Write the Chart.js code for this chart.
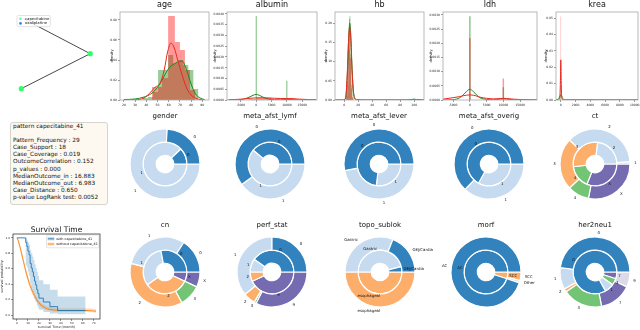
<!DOCTYPE html>
<html>
<head>
<meta charset="utf-8">
<script src="https://cdn.jsdelivr.net/npm/chart.js@4.4.1/dist/chart.umd.min.js"></script>
<style>
  body { margin: 0; width: 640px; height: 330px; background: #fff; position: relative; overflow: hidden; font-family: "DejaVu Sans", sans-serif; }
  canvas { position: absolute; }
  #stats { position: absolute; left: 10px; top: 122px; width: 98px; height: 83px; box-sizing: border-box;
           background: #fdf9f1; border: 0.8px solid #d8d4cc; border-radius: 3px; padding: 0 2px;
           font-size: 5.8px; line-height: 7.1px; color: #111; white-space: pre; }
</style>
</head>
<body>
<div id="stats"></div>
<script>
// ---------- tree (top left) ----------
const treeNodeX = [0.19, 0.845, 0.17];
const treeNodeY = [0.84, 0.46, 0.08];
const treeEdges = [[0, 1], [1, 2]];
const treeShown = [1, 2];
const treeLegend = ['capecitabine', 'oxaliplatine'];

// ---------- stats text ----------
const statsTitle = 'pattern capecitabine_41';
const statsLines = ['Pattern_Frequency : 29', 'Case_Support : 18', 'Case_Coverage : 0.019',
  'OutcomeCorrelation : 0.152', 'p_values : 0.000', 'MedianOutcome_in : 16.883',
  'MedianOutcome_out : 6.983', 'Case_Distance : 0.650', 'p-value LogRank test: 0.0052'];

// ---------- histograms ----------
const ageRedEdges = [45, 49.5, 54, 59.5, 65.5, 70, 74.5, 79, 83.5];
const ageRedDens = [0.013, 0.013, 0.022, 0.084, 0.058, 0.05, 0.03, 0.01];
const ageGreenEdges = [37, 41.5, 46, 50.5, 55, 59.5, 64, 68.5, 73, 77.5, 82, 86.5];
const ageGreenDens = [0.002, 0.003, 0.008, 0.03, 0.03, 0.045, 0.037, 0.04, 0.035, 0.03, 0.011];
const ageKdeX = [20, 30, 38, 44, 48, 52, 56, 59, 62, 65, 68, 72, 76, 80, 84, 88, 92];
const ageKdeRed = [0, 0.0003, 0.002, 0.008, 0.013, 0.016, 0.03, 0.048, 0.057, 0.052, 0.04, 0.025, 0.012, 0.005, 0.002, 0.0005, 0];
const ageKdeGreen = [0.0005, 0.001, 0.003, 0.006, 0.01, 0.016, 0.024, 0.03, 0.034, 0.036, 0.038, 0.039, 0.03, 0.016, 0.006, 0.002, 0.0005];
const ageXTicks = [20, 30, 40, 50, 60, 70, 80, 90];
const ageYTicks = [0, 0.02, 0.04, 0.06, 0.08];

const albRedEdges = [-2500, 0, 2500, 5000, 7500, 10000, 12500, 15000];
const albRedDens = [0.00005, 0.00012, 0.00012, 0.00004, 0.00004, 0.00008, 0.00003];
const albGreenEdges = [-250, 250, 9750, 10250];
const albGreenDens = [0.0039, 0, 0.0009];
const albKdeX = [-9000, -6000, -4000, -2000, -1000, 0, 1000, 2000, 4000, 6000, 8000, 10000, 12000, 14000, 17000, 19500];
const albKdeRed = [0.00001, 0.00003, 0.00005, 0.00008, 0.00009, 0.0001, 0.0001, 0.0001, 0.00009, 0.00008, 0.00007, 0.00007, 0.00006, 0.00004, 0.00002, 0.00001];
const albKdeGreen = [0, 0.00001, 0.00004, 0.00015, 0.00022, 0.00026, 0.00022, 0.00015, 0.00004, 0.00001, 0.00001, 0.00003, 0.00001, 0, 0, 0];
const albXTicks = [-5000, 0, 5000, 10000, 15000];
const albYTicks = [0, 0.0005, 0.001, 0.0015, 0.002, 0.0025, 0.003, 0.0035, 0.004];

const hbRedEdges = [2.5, 4, 5.5, 7, 8.5, 10, 11.5, 13];
const hbRedDens = [0.015, 0.05, 0.16, 0.21, 0.11, 0.03, 0.006];
const hbGreenEdges = [3, 4.5, 6, 7.5, 9, 10.5, 12, 13.5, 98, 101];
const hbGreenDens = [0.01, 0.04, 0.13, 0.218, 0.12, 0.04, 0.008, 0, 0.003];
const hbKdeX = [-13, -2, 1, 3, 5, 6.5, 8, 9.5, 11, 13, 15, 18, 30, 60, 90, 97, 100, 103, 114];
const hbKdeRed = [0, 0, 0.002, 0.02, 0.09, 0.16, 0.19, 0.16, 0.09, 0.025, 0.005, 0.001, 0, 0, 0, 0, 0, 0, 0];
const hbKdeGreen = [0, 0, 0.001, 0.015, 0.08, 0.16, 0.2, 0.17, 0.1, 0.03, 0.006, 0.001, 0, 0, 0, 0.0015, 0.002, 0.0015, 0];
const hbXTicks = [0, 20, 40, 60, 80, 100];
const hbYTicks = [0, 0.05, 0.1, 0.15, 0.2];

const ldhRedEdges = [-250, 250, 9750, 10250];
const ldhRedDens = [0.00218, 0, 0.00076];
const ldhGreenEdges = [-250, 250, 9750, 10250];
const ldhGreenDens = [0.00295, 0, 0.00045];
const ldhKdeX = [-8000, -5000, -3000, -2000, -1000, 0, 1000, 2000, 3000, 5000, 7000, 9000, 10000, 11000, 13000, 16000, 20000];
const ldhKdeRed = [0.00003, 0.00008, 0.00012, 0.00015, 0.00017, 0.00018, 0.00017, 0.00014, 0.0001, 0.00006, 0.00004, 0.00005, 0.00006, 0.00005, 0.00003, 0.00001, 0];
const ldhKdeGreen = [0, 0.00001, 0.00008, 0.00018, 0.0003, 0.00038, 0.0003, 0.00018, 0.00008, 0.00002, 0.00001, 0.00003, 0.00004, 0.00003, 0.00001, 0, 0];
const ldhXTicks = [-5000, 0, 5000, 10000, 15000];
const ldhYTicks = [0, 0.0005, 0.001, 0.0015, 0.002, 0.0025, 0.003];

const kreaRedEdges = [-60, 60];
const kreaRedDens = [0.051];
const kreaGreenEdges = [-60, 60];
const kreaGreenDens = [0.0045];
const kreaKdeX = [-650, -400, -200, -100, -50, 0, 50, 100, 200, 400, 650, 1000, 2000, 5000, 10450];
const kreaKdeRed = [0, 0, 0.0005, 0.004, 0.012, 0.0245, 0.012, 0.004, 0.0005, 0, 0, 0, 0, 0, 0];
const kreaKdeGreen = [0, 0.0003, 0.0015, 0.0025, 0.0029, 0.003, 0.0029, 0.0025, 0.0015, 0.0003, 0.0001, 0.0001, 0.0001, 0, 0];
const kreaXTicks = [0, 2000, 4000, 6000, 8000, 10000];
const kreaYTicks = [0, 0.01, 0.02, 0.03, 0.04, 0.05];

// ---------- survival ----------
const withT = [0, 8, 9, 10, 11, 12, 13, 14, 15, 16, 17, 18, 19, 20, 24, 30, 37, 62.5];
const withS = [1.0, 0.94, 0.89, 0.83, 0.78, 0.67, 0.61, 0.56, 0.5, 0.44, 0.39, 0.33, 0.28, 0.22, 0.17, 0.11, 0.06, 0.06];
const withHi = [1.0, 0.99, 0.97, 0.94, 0.91, 0.84, 0.8, 0.76, 0.71, 0.66, 0.61, 0.56, 0.51, 0.45, 0.4, 0.33, 0.24, 0.24];
const withLo = [1.0, 0.65, 0.62, 0.56, 0.51, 0.41, 0.35, 0.3, 0.26, 0.21, 0.17, 0.13, 0.1, 0.07, 0.04, 0.02, 0.01, 0.01];
const woT = [0, 1, 2, 3, 4, 5, 6, 7, 8, 9, 10, 12, 14, 16, 18, 20, 22, 25, 28, 32, 38, 45, 55, 65, 72];
const woS = [1.0, 0.97, 0.92, 0.87, 0.81, 0.75, 0.69, 0.63, 0.57, 0.52, 0.47, 0.38, 0.31, 0.25, 0.2, 0.16, 0.13, 0.1, 0.08, 0.07, 0.06, 0.06, 0.06, 0.06, 0.05];
const woHi = [1.0, 0.99, 0.95, 0.9, 0.85, 0.79, 0.73, 0.67, 0.61, 0.56, 0.51, 0.42, 0.35, 0.29, 0.23, 0.19, 0.16, 0.13, 0.11, 0.1, 0.09, 0.09, 0.09, 0.09, 0.08];
const woLo = [1.0, 0.95, 0.89, 0.84, 0.77, 0.71, 0.65, 0.59, 0.53, 0.48, 0.43, 0.34, 0.27, 0.21, 0.17, 0.13, 0.1, 0.08, 0.06, 0.05, 0.04, 0.04, 0.04, 0.04, 0.03];
const survXTicks = [0, 10, 20, 30, 40, 50, 60, 70];
const survYTicks = [0, 0.2, 0.4, 0.6, 0.8, 1.0];
const survLegend = ['with capecitabine_41', 'without capecitabine_41'];

// ---------- nested pies (matplotlib order, counter-clockwise from 3 o'clock) ----------
const binCats = ['0', '1'];
const genderOuter = [24, 76], genderInner = [12, 88];
const lymfOuter = [60, 40], lymfInner = [39, 61];
const leverOuter = [53, 47], leverInner = [73, 27];
const overigOuter = [63, 37], overigInner = [67, 33];
const ctCats = ['1', '2', '3', '4', 'X'];
const ctOuter = [1, 37, 24, 10, 28], ctInner = [0, 23, 29, 17, 31];
const cnCats = ['0', '1', '2', '3', 'X'];
const cnOuter = [16, 30, 37, 10, 7], cnInner = [28, 32, 33, 0, 7];
const perfCats = ['0', '1', '2', '3', '9'];
const perfOuter = [25, 36, 5.5, 1, 32.5], perfInner = [40, 10, 7, 0, 43];
const topoCats = ['GEJ/Cardia', 'Gastric', 'esophageal'];
const topoOuter = [19, 31, 50], topoInner = [4, 46, 50];
const morfCats = ['AC', 'Other', 'SCC'];
const morfOuter = [95, 1, 4], morfInner = [95, 0, 5];
const herCats = ['0', '1', '2', '3', '7', '9'];
const herOuter = [48, 10, 1.5, 18.5, 15, 7], herInner = [83, 7, 0, 5, 5, 0];

const C = { dblue: '#3182bd', lblue: '#c6dbef', orange: '#fdae6b', green: '#74c476', purple: '#756bb1', lpurple: '#dadaeb' };

// ---------------------------------------------------------------
Chart.defaults.font.family = "'DejaVu Sans', sans-serif";
Chart.defaults.color = '#222';
Chart.defaults.animation = false;
Chart.defaults.plugins.legend.display = false;
Chart.defaults.plugins.tooltip.enabled = false;

const panelTitle = {
  id: 'panelTitle',
  afterDraw(chart, args, o) {
    if (!o.text) return;
    const ctx = chart.ctx, a = chart.chartArea;
    ctx.save();
    ctx.font = o.size + "px 'DejaVu Sans'";
    ctx.fillStyle = '#111';
    ctx.textAlign = 'center';
    ctx.textBaseline = 'alphabetic';
    ctx.fillText(o.text, (a.left + a.right) / 2, o.y);
    ctx.restore();
  }
};

const frameBox = {
  id: 'frameBox',
  afterDraw(chart, args, o) {
    if (!o.color) return;
    const ctx = chart.ctx, a = chart.chartArea;
    ctx.save();
    ctx.strokeStyle = o.color;
    ctx.lineWidth = o.width || 0.8;
    ctx.strokeRect(a.left, a.top, a.right - a.left, a.bottom - a.top);
    ctx.restore();
  }
};

const pieLabels = {
  id: 'pieLabels',
  afterDatasetsDraw(chart, args, o) {
    if (!o.show) return;
    const ctx = chart.ctx;
    ctx.save();
    ctx.font = o.size + "px 'DejaVu Sans'";
    ctx.fillStyle = '#111';
    ctx.textBaseline = 'middle';
    chart.data.datasets.forEach((ds, d) => {
      chart.getDatasetMeta(d).data.forEach((arc, i) => {
        if (!ds.data[i]) return;
        const p = arc.getProps(['x', 'y', 'startAngle', 'endAngle', 'outerRadius']);
        const m = (p.startAngle + p.endAngle) / 2;
        const r = p.outerRadius * (d === 0 ? 1.12 : 1.08);
        const c = Math.cos(m);
        ctx.textAlign = c > 1e-9 ? 'left' : 'right';
        ctx.fillText(chart.data.labels[i], p.x + c * r, p.y + Math.sin(m) * r);
      });
    });
    ctx.restore();
  }
};

// small matplotlib-like legend box drawn on top of the data
const boxLegend = {
  id: 'boxLegend',
  afterDatasetsDraw(chart, args, o) {
    if (!o.items) return;
    const ctx = chart.ctx, a = chart.chartArea;
    ctx.save();
    ctx.font = o.size + "px 'DejaVu Sans'";
    const tw = Math.max(...o.items.map(it => ctx.measureText(it.label).width));
    const w = o.pad * 2 + o.mark + 2 + tw, h = o.pad * 2 + o.row * o.items.length;
    const x0 = o.right ? a.right - o.dx - w : a.left + o.dx, y0 = a.top + o.dy;
    ctx.fillStyle = 'rgba(255,255,255,0.85)';
    ctx.strokeStyle = '#d0d0d0';
    ctx.lineWidth = 0.6;
    ctx.beginPath();
    ctx.roundRect(x0, y0, w, h, 1.5);
    ctx.fill();
    ctx.stroke();
    ctx.textBaseline = 'middle';
    ctx.textAlign = 'left';
    o.items.forEach((it, k) => {
      const cy = y0 + o.pad + o.row * (k + 0.5), mx = x0 + o.pad;
      if (it.type === 'dot') {
        ctx.fillStyle = it.color;
        ctx.beginPath();
        ctx.arc(mx + o.mark / 2, cy, 1.3, 0, Math.PI * 2);
        ctx.fill();
      } else {
        if (it.band) { ctx.fillStyle = it.band; ctx.fillRect(mx, cy - 1.6, o.mark, 3.2); }
        ctx.strokeStyle = it.color;
        ctx.lineWidth = 0.8;
        ctx.beginPath(); ctx.moveTo(mx, cy); ctx.lineTo(mx + o.mark, cy); ctx.stroke();
      }
      ctx.fillStyle = '#111';
      ctx.fillText(it.label, mx + o.mark + 2, cy);
    });
    ctx.restore();
  }
};

Chart.register(panelTitle, frameBox, pieLabels, boxLegend);

function addCanvas(x, y, w, h) {
  const c = document.createElement('canvas');
  c.width = w; c.height = h;
  c.style.left = x + 'px'; c.style.top = y + 'px';
  document.body.appendChild(c);
  return c;
}

const pts = (xs, ys) => xs.map((x, i) => ({ x: x, y: ys[i] }));

function stepPts(edges, dens) {
  const out = [{ x: edges[0], y: 0 }];
  dens.forEach((d, i) => out.push({ x: edges[i], y: d }));
  out.push({ x: edges[edges.length - 1], y: 0 });
  return out;
}

function axis(min, max, ticks, dec, fsize, fit, title) {
  return {
    type: 'linear', min: min, max: max,
    afterBuildTicks: s => { s.ticks = ticks.map(v => ({ value: v })); },
    afterFit: fit,
    ticks: { font: { size: fsize }, padding: 1, autoSkip: false, maxRotation: 0,
             callback: v => dec === null ? String(v) : Number(v).toFixed(dec) },
    grid: { drawOnChartArea: false, tickLength: 2, color: '#333', lineWidth: 0.5 },
    border: { display: false },
    title: { display: !!title, text: title || '', font: { size: fsize + 0.6 }, padding: 0.5 }
  };
}

function histPanel(name, frame, padL, xr, xTicks, yMax, yTicks, yDec, h) {
  const padB = 10, padR = 10;
  const cv = addCanvas(frame[0] - padL, 0, padL + frame[1] + padR, 12 + 88 + padB);
  const datasets = [
    { data: pts(h.kx, h.kr), borderColor: '#e8281e', borderWidth: 1, pointRadius: 0, cubicInterpolationMode: 'monotone', fill: false },
    { data: pts(h.kx, h.kg), borderColor: '#1a8a1a', borderWidth: 1, pointRadius: 0, cubicInterpolationMode: 'monotone', fill: false },
    { data: stepPts(h.re, h.rd), stepped: 'before', borderWidth: 0, pointRadius: 0, fill: 'origin', backgroundColor: 'rgba(255,0,0,0.4)' },
    { data: stepPts(h.ge, h.gd), stepped: 'before', borderWidth: 0, pointRadius: 0, fill: 'origin', backgroundColor: 'rgba(0,128,0,0.4)' }
  ];
  new Chart(cv, {
    type: 'line',
    data: { datasets: datasets },
    options: {
      responsive: false,
      layout: { padding: { top: 12, right: padR, left: 0, bottom: 0 } },
      scales: {
        x: axis(xr[0], xr[1], xTicks, null, 3, s => { s.height = padB; }),
        y: axis(0, yMax, yTicks, yDec, 3, s => { s.width = padL; }, 'density')
      },
      plugins: {
        panelTitle: { text: name, size: 8, y: 7 },
        frameBox: { color: '#a8a8a8', width: 0.8 }
      }
    }
  });
}

function donut(name, cx, cy, titleY, cats, outer, inner, colors) {
  const cv = addCanvas(cx - 55, cy - 60, 110, 110);
  const rev = a => a.slice().reverse();
  new Chart(cv, {
    type: 'doughnut',
    data: {
      labels: rev(cats),
      datasets: [
        { data: rev(outer), backgroundColor: rev(colors), borderColor: '#fff', borderWidth: 1.2 },
        { data: rev(inner), backgroundColor: rev(colors), borderColor: '#fff', borderWidth: 1.2 }
      ]
    },
    options: {
      responsive: false,
      rotation: 90,
      cutout: '25%',
      layout: { padding: { left: 19.4, right: 19.4, top: 24.4, bottom: 14.4 } },
      plugins: {
        panelTitle: { text: name, size: 7, y: titleY - (cy - 60) },
        pieLabels: { show: true, size: 3.9 }
      }
    }
  });
}

// ---------- tree ----------
(function () {
  const cv = addCanvas(0, 0, 110, 100);
  const datasets = treeEdges.map(e => ({
    data: pts([treeNodeX[e[0]], treeNodeX[e[1]]], [treeNodeY[e[0]], treeNodeY[e[1]]]),
    borderColor: '#333', borderWidth: 0.9, pointRadius: 0, fill: false
  }));
  datasets.unshift({
    data: pts(treeShown.map(i => treeNodeX[i]), treeShown.map(i => treeNodeY[i])),
    showLine: false, pointRadius: 2.6, pointBackgroundColor: '#2dff6a', pointBorderWidth: 0
  });
  new Chart(cv, {
    type: 'line',
    data: { datasets: datasets },
    options: {
      responsive: false,
      layout: { padding: 0 },
      scales: { x: { type: 'linear', min: 0, max: 1, display: false }, y: { min: 0, max: 1, display: false } },
      plugins: {
        boxLegend: { items: [
          { label: treeLegend[0], color: '#52ffb8', type: 'dot' },
          { label: treeLegend[1], color: '#3b7fd9', type: 'dot' }
        ], size: 3.8, pad: 1, row: 4.6, mark: 5, right: false, dx: 13, dy: 11.5 }
      }
    }
  });
})();

// ---------- stats box ----------
document.getElementById('stats').textContent = [statsTitle, ''].concat(statsLines).join('\n');

// ---------- histograms ----------
histPanel('age', [120, 89], 11, [16.5, 96], ageXTicks, 0.088, ageYTicks, 2,
  { re: ageRedEdges, rd: ageRedDens, ge: ageGreenEdges, gd: ageGreenDens, kx: ageKdeX, kr: ageKdeRed, kg: ageKdeGreen });
histPanel('albumin', [227, 90], 15, [-9500, 19800], albXTicks, 0.00409, albYTicks, 4,
  { re: albRedEdges, rd: albRedDens, ge: albGreenEdges, gd: albGreenDens, kx: albKdeX, kr: albKdeRed, kg: albKdeGreen });
histPanel('hb', [335, 89], 12, [-13, 114], hbXTicks, 0.229, hbYTicks, 2,
  { re: hbRedEdges, rd: hbRedDens, ge: hbGreenEdges, gd: hbGreenDens, kx: hbKdeX, kr: hbKdeRed, kg: hbKdeGreen });
histPanel('ldh', [443, 94], 15, [-8000, 20000], ldhXTicks, 0.0031, ldhYTicks, 4,
  { re: ldhRedEdges, rd: ldhRedDens, ge: ldhGreenEdges, gd: ldhGreenDens, kx: ldhKdeX, kr: ldhKdeRed, kg: ldhKdeGreen });
histPanel('krea', [556, 82], 13, [-650, 10450], kreaXTicks, 0.0537, kreaYTicks, 2,
  { re: kreaRedEdges, rd: kreaRedDens, ge: kreaGreenEdges, gd: kreaGreenDens, kx: kreaKdeX, kr: kreaKdeRed, kg: kreaKdeGreen });

// ---------- survival ----------
(function () {
  const cv = addCanvas(0, 215, 130, 115);
  const blue = '#1f77b4', orange = '#ff7f0e';
  new Chart(cv, {
    type: 'line',
    data: { datasets: [
      { data: pts(withT, withS), stepped: 'before', borderColor: blue, borderWidth: 0.9, pointRadius: 0, fill: false },
      { data: pts(woT, woS), borderColor: orange, borderWidth: 0.9, pointRadius: 0, cubicInterpolationMode: 'monotone', fill: false },
      { data: pts(withT, withHi), stepped: 'before', borderWidth: 0, pointRadius: 0, fill: '+1', backgroundColor: 'rgba(31,119,180,0.25)' },
      { data: pts(withT, withLo), stepped: 'before', borderWidth: 0, pointRadius: 0, fill: false },
      { data: pts(woT, woHi), borderWidth: 0, pointRadius: 0, cubicInterpolationMode: 'monotone', fill: '+1', backgroundColor: 'rgba(255,127,14,0.25)' },
      { data: pts(woT, woLo), borderWidth: 0, pointRadius: 0, cubicInterpolationMode: 'monotone', fill: false }
    ] },
    options: {
      responsive: false,
      layout: { padding: { top: 19, right: 30, left: 0, bottom: 0 } },
      scales: {
        x: axis(-3.6, 75.6, survXTicks, null, 2.8, s => { s.height = 11; }, 'survival Time (month)'),
        y: axis(-0.05, 1.05, survYTicks, 1, 2.8, s => { s.width = 13; }, 'survival probability')
      },
      plugins: {
        panelTitle: { text: 'Survival Time', size: 7.6, y: 16.5 },
        frameBox: { color: '#222', width: 0.7 },
        boxLegend: { items: [
          { label: survLegend[0], color: blue, band: 'rgba(31,119,180,0.3)' },
          { label: survLegend[1], color: orange, band: 'rgba(255,127,14,0.25)' }
        ], size: 3.4, pad: 1.2, row: 5.2, mark: 6.5, right: true, dx: 1, dy: 1 }
      }
    }
  });
})();

// ---------- nested pies ----------
const bin = [C.dblue, C.lblue];
donut('gender', 165, 164, 117.5, binCats, genderOuter, genderInner, bin);
donut('meta_afst_lymf', 270, 164, 117.5, binCats, lymfOuter, lymfInner, bin);
donut('meta_afst_lever', 379, 164, 117.5, binCats, leverOuter, leverInner, bin);
donut('meta_afst_overig', 489, 164, 117.5, binCats, overigOuter, overigInner, bin);
donut('ct', 595, 164, 117.5, ctCats, ctOuter, ctInner, [C.lblue, C.lblue, C.orange, C.green, C.purple]);
donut('cn', 165, 272, 227, cnCats, cnOuter, cnInner, [C.dblue, C.lblue, C.orange, C.green, C.purple]);
donut('perf_stat', 272, 272, 227, perfCats, perfOuter, perfInner, [C.dblue, C.lblue, C.orange, C.green, C.purple]);
donut('topo_sublok', 380, 272, 227, topoCats, topoOuter, topoInner, [C.dblue, C.lblue, C.orange]);
donut('morf', 486, 272, 227, morfCats, morfOuter, morfInner, [C.dblue, C.lblue, C.orange]);
donut('her2neu1', 595, 272, 227, herCats, herOuter, herInner, [C.dblue, C.lblue, C.orange, C.green, C.purple, C.lpurple]);
</script>
</body>
</html>
